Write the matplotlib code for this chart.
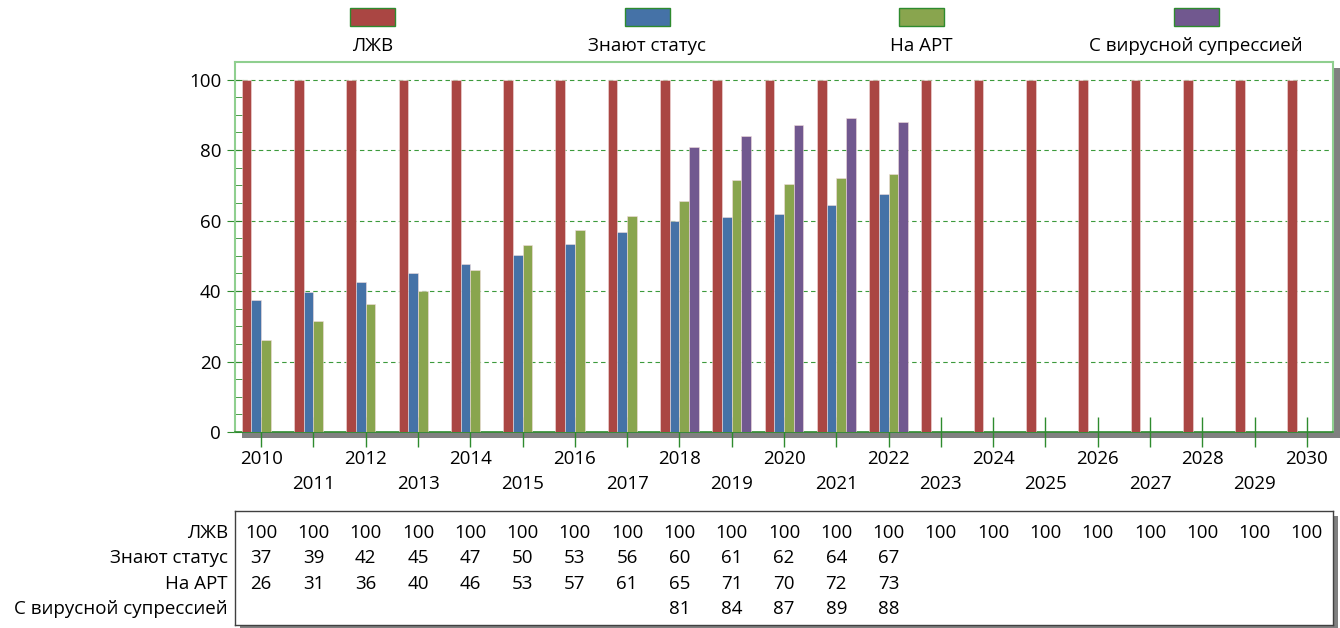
import matplotlib
matplotlib.use('Agg')
import matplotlib.pyplot as plt
from matplotlib.patches import Rectangle
import matplotlib.transforms as mtransforms
import numpy as np

plt.rcParams['font.family'] = ['Open Sans', 'DejaVu Sans']
plt.rcParams['font.size'] = 13.5

# data
years = list(range(2010, 2031))
series_names = ['ЛЖВ', 'Знают статус', 'На АРТ', 'С вирусной супрессией']
plhiv = [100] * 21
know_status = [37.4, 39.7, 42.5, 45.0, 47.6, 50.1, 53.3, 56.7, 60.0, 61.0, 62.0, 64.3, 67.4]
on_art = [26.0, 31.6, 36.3, 40.0, 46.0, 53.0, 57.2, 61.2, 65.6, 71.4, 70.5, 72.0, 73.1]
suppressed = [None] * 8 + [81.0, 84.0, 87.0, 89.2, 88.1]
colors = ['#AA4643', '#4572A7', '#89A54E', '#71588F']

all_series = [plhiv, know_status, on_art, suppressed]

W, H = 1340, 628
fig = plt.figure(figsize=(W / 100, H / 100), dpi=100)

def fx(px):
    return px / W

def fy(py):
    return 1 - py / H

# main plot area
L, R, T, B = 235, 1333, 62, 432
ax = fig.add_axes([fx(L), fy(B), fx(R - L), fy(T) - fy(B)])
ax.set_facecolor('white')

# shadow behind plot area
fig.patches.append(Rectangle((fx(L + 7), fy(B + 6)), fx(R - L), fy(T) - fy(B),
                             transform=fig.transFigure, facecolor='#808080',
                             edgecolor='none', zorder=-1))

bw = 0.186
x = np.arange(len(years))
for k, (vals, col) in enumerate(zip(all_series, colors)):
    xs = [x[i] + (k - 1.5) * bw for i, v in enumerate(vals) if v is not None]
    hs = [v for v in vals if v is not None]
    ax.bar(xs, hs, width=bw, color=col, edgecolor='#f2dcdc', linewidth=0.4, zorder=3)

ax.set_xlim(-0.5, len(years) - 0.5)
ax.set_ylim(0, 105)
ax.set_yticks([0, 20, 40, 60, 80, 100])
ax.set_yticks(np.arange(0, 105, 5), minor=True)
ax.yaxis.grid(True, which='major', color='#3c9a3c', linestyle=(0, (4, 3)), linewidth=0.8, zorder=1)
ax.tick_params(axis='y', which='major', direction='inout', length=12, color='#2e8b2e', labelsize=13.5, pad=4)
ax.tick_params(axis='y', which='minor', direction='in', length=6, color='#2e8b2e')
ax.set_xticks(x)
ax.set_xticklabels([])
ax.tick_params(axis='x', which='major', direction='inout', length=22, color='#2e8b2e', width=1)
for s in ax.spines.values():
    s.set_color('#8fcf8f')
    s.set_linewidth(1.5)
ax.spines['bottom'].set_color('#2e8b2e')
ax.spines['bottom'].set_linewidth(1.2)

# staggered year labels
trans = mtransforms.blended_transform_factory(ax.transData, fig.transFigure)
for i, yr in enumerate(years):
    py = 459 if i % 2 == 0 else 484
    ax.text(x[i], fy(py), str(yr), transform=trans, ha='center', va='center')

# legend along the top
for k, (name, col) in enumerate(zip(series_names, colors)):
    cx = L + (R - L) * (k + 0.5) / 4
    fig.patches.append(Rectangle((fx(cx - 22), fy(26)), fx(45), fy(8) - fy(26),
                                 transform=fig.transFigure, facecolor=col,
                                 edgecolor='#2e8b2e', linewidth=1))
    fig.text(fx(cx), fy(46), name, ha='center', va='center')

# data table below
TT, TB = 511, 625
tax = fig.add_axes([fx(L), fy(TB), fx(R - L), fy(TT) - fy(TB)])
fig.patches.append(Rectangle((fx(L + 5), fy(TB + 5)), fx(R - L), fy(TT) - fy(TB),
                             transform=fig.transFigure, facecolor='#808080',
                             edgecolor='none', zorder=-1))
tax.set_xlim(-0.5, len(years) - 0.5)
tax.set_ylim(3.62, -0.86)
tax.set_xticks([])
tax.set_yticks([])
for s in tax.spines.values():
    s.set_color('#404040')
    s.set_linewidth(1)
ttrans = mtransforms.blended_transform_factory(fig.transFigure, tax.transData)
for r, (name, vals) in enumerate(zip(series_names, all_series)):
    tax.text(fx(228), r, name, transform=ttrans, ha='right', va='center')
    for i, v in enumerate(vals):
        if v is not None:
            tax.text(x[i], r, str(int(v)), ha='center', va='center')

fig.savefig('out.png', dpi=100, facecolor='white')
